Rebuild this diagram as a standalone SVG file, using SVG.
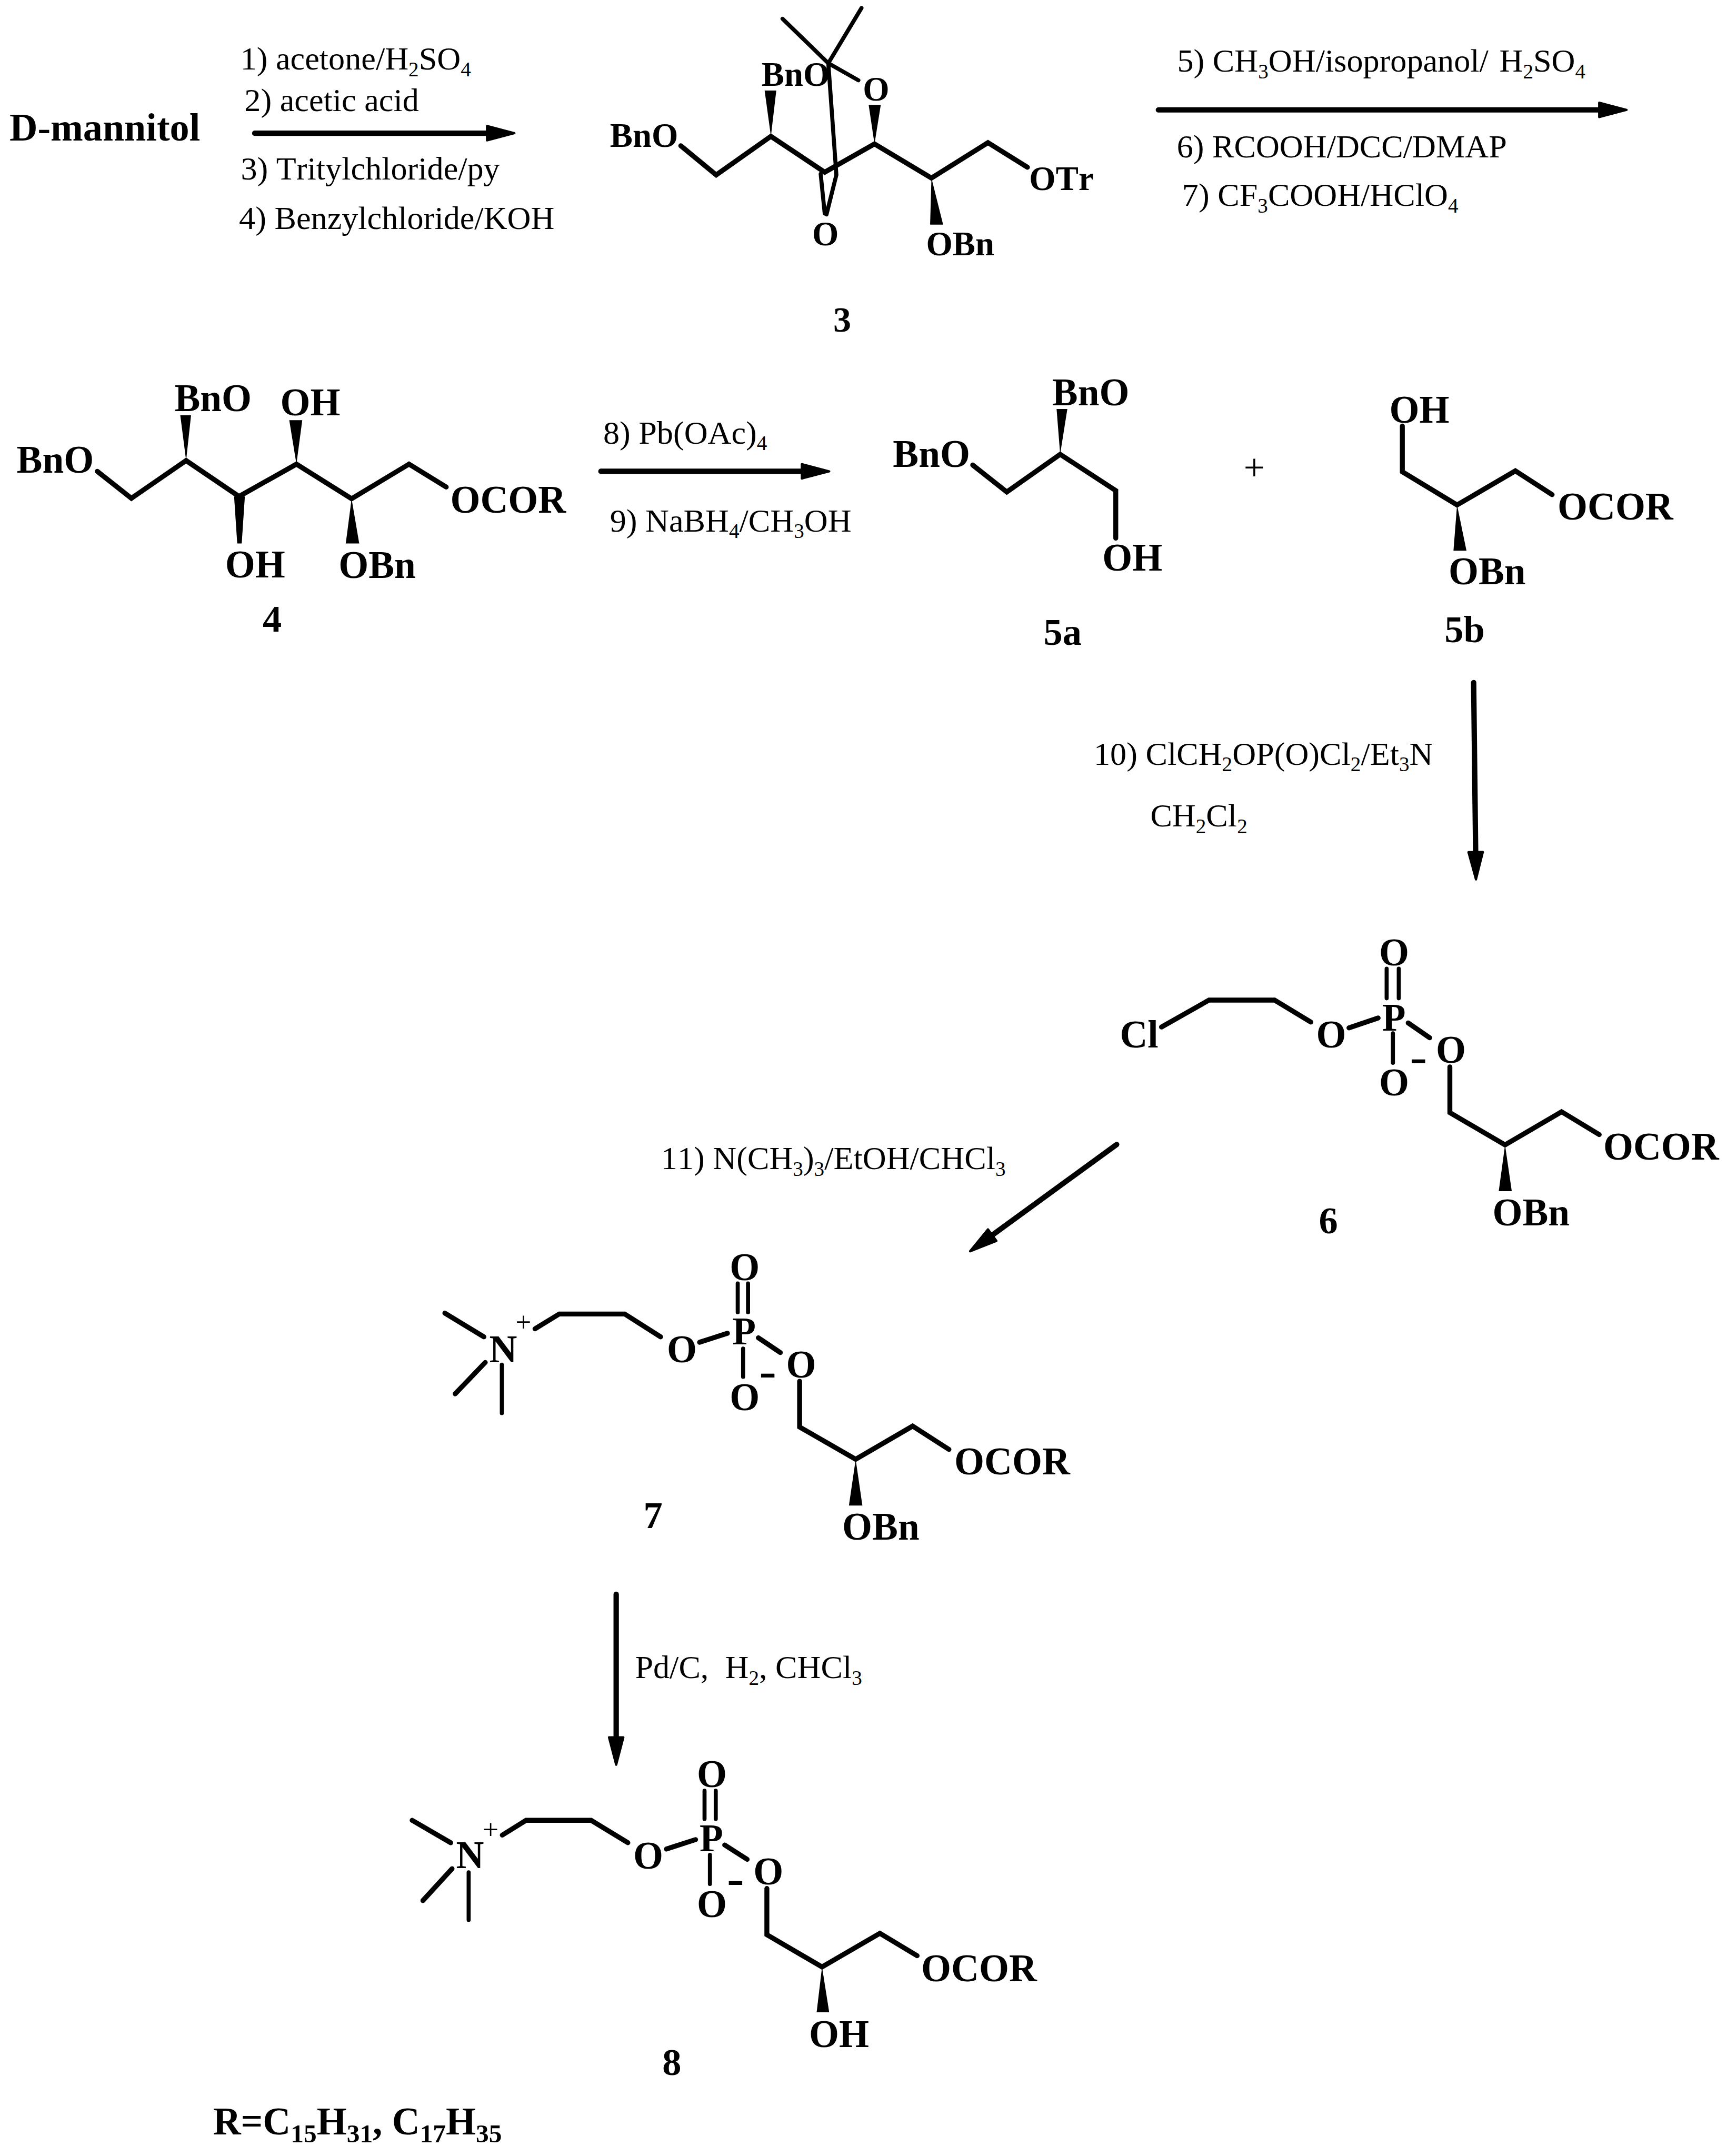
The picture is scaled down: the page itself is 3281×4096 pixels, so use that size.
<svg xmlns="http://www.w3.org/2000/svg" width="3281" height="4096" viewBox="0 0 3281 4096">
<style>
text{fill:#000;font-family:"Liberation Serif","Times New Roman",serif;white-space:pre;font-kerning:none}
.r{font-size:73px}
.m{font-size:86px;font-weight:700}
.s{font-size:76px;font-weight:700}
.l{font-size:85px;font-weight:700;text-anchor:middle}
.minus{font-size:115px;text-anchor:middle}
.bond{fill:none;stroke:#000;stroke-width:11;stroke-linecap:round;stroke-linejoin:miter}
.thin{fill:none;stroke:#000;stroke-width:9;stroke-linecap:round;stroke-linejoin:miter}
.arrow{fill:none;stroke:#000;stroke-width:12;stroke-linecap:round;marker-end:url(#head)}
.w{fill:#000}
</style>
<defs>
<marker id="head" markerUnits="userSpaceOnUse" markerWidth="80" markerHeight="50" viewBox="-5 -25 80 50" refX="5" refY="0" orient="auto" overflow="visible">
<path d="M2,-16 L63,0 L2,16 Z" fill="#000" stroke="#000" stroke-width="5" stroke-linejoin="round"/>
</marker>
</defs>
<rect width="3281" height="4096" fill="#fff"/>
<g transform="scale(.852)">

<g id="connectors">
<path class="arrow" d="M568,297 L1089,297"/>
<path class="arrow" d="M2583,245 L3569,245"/>
<path class="arrow" d="M1340,1051 L1791,1051"/>
<path class="arrow" d="M3286,1522 L3290.5,1903"/>
<path class="arrow" d="M2490,2552 L2210,2756"/>
<path class="arrow" d="M1374,3555 L1374,3877"/>
</g>

<g id="reagents">
<text class="r" x="536" y="155">1) acetone/H<tspan font-size="46" dy="15">2</tspan><tspan dy="-15">SO</tspan><tspan font-size="46" dy="15">4</tspan></text>
<text class="r" x="545" y="248">2) acetic acid</text>
<text class="r" x="537" y="400">3) Tritylchloride/py</text>
<text class="r" x="533" y="511">4) Benzylchloride/KOH</text>
<text class="r" x="2625" y="160">5) CH<tspan font-size="46" dy="15">3</tspan><tspan dy="-15">OH/isopropanol/ </tspan><tspan dx="6">H</tspan><tspan font-size="46" dy="15">2</tspan><tspan dy="-15">SO</tspan><tspan font-size="46" dy="15">4</tspan></text>
<text class="r" x="2624" y="351">6) RCOOH/DCC/DMAP</text>
<text class="r" x="2636" y="459">7) CF<tspan font-size="46" dy="15">3</tspan><tspan dy="-15">COOH/HClO</tspan><tspan font-size="46" dy="15">4</tspan></text>
<text class="r" x="1345" y="989">8) Pb(OAc)<tspan font-size="46" dy="15">4</tspan></text>
<text class="r" x="1360" y="1185">9) NaBH<tspan font-size="46" dy="15">4</tspan><tspan dy="-15">/CH</tspan><tspan font-size="46" dy="15">3</tspan><tspan dy="-15">OH</tspan></text>
<text class="r" x="2439" y="1705">10) ClCH<tspan font-size="46" dy="15">2</tspan><tspan dy="-15">OP(O)Cl</tspan><tspan font-size="46" dy="15">2</tspan><tspan dy="-15">/Et</tspan><tspan font-size="46" dy="15">3</tspan><tspan dy="-15">N</tspan></text>
<text class="r" x="2565" y="1843">CH<tspan font-size="46" dy="15">2</tspan><tspan dy="-15">Cl</tspan><tspan font-size="46" dy="15">2</tspan></text>
<text class="r" x="1474" y="2607">11) N(CH<tspan font-size="46" dy="15">3</tspan><tspan dy="-15">)</tspan><tspan font-size="46" dy="15">3</tspan><tspan dy="-15">/EtOH/CHCl</tspan><tspan font-size="46" dy="15">3</tspan></text>
<text class="r" x="1416" y="3742">Pd/C,  H<tspan font-size="46" dy="15">2</tspan><tspan dy="-15">, CHCl</tspan><tspan font-size="46" dy="15">3</tspan></text>
</g>

<g id="d-mannitol"><text x="21" y="313" font-size="87" font-weight="700">D-mannitol</text></g>

<g id="compound-3">
<path class="bond" d="M1518,325 L1597,390 L1719,304 L1839,384 L1950,321 L2077,397 L2203,318 L2291,373"/>
<path class="thin" d="M1745,42 L1847,141 L1914,179 M1921,18 L1847,141 L1865,390 L1843,478 M1830,388 L1839,476"/>
<polygon class="w" points="1719,304 1705,202 1731,202"/>
<polygon class="w" points="1950,321 1937,234 1964,234"/>
<polygon class="w" points="2077,397 2074,501 2103,501"/>
<text class="s" x="1698" y="191">BnO</text>
<text class="s" x="1360" y="328">BnO</text>
<text class="s" x="1924" y="224">O</text>
<text class="s" x="1811" y="547">O</text>
<text class="s" x="2295" y="424">OTr</text>
<text class="s" x="2065" y="569">OBn</text>
<text class="l" x="1878" y="739" style="font-size:80px">3</text>
</g>

<g id="compound-4">
<path class="bond" d="M217,1051 L293,1111 L415,1027 L533,1107 L661,1035 L784,1112 L912,1035 L995,1086"/>
<polygon class="w" points="415,1027 402,926 426,926"/>
<polygon class="w" points="661,1035 645,937 674,937"/>
<polygon class="w" points="522,1107 546,1107 539,1212 529,1212"/>
<polygon class="w" points="784,1112 771,1212 801,1212"/>
<text class="m" x="37" y="1054">BnO</text>
<text class="m" x="389" y="917">BnO</text>
<text class="m" x="625" y="926">OH</text>
<text class="m" x="502" y="1288">OH</text>
<text class="m" x="755" y="1289">OBn</text>
<text class="m" x="1004" y="1143">OCOR</text>
<text class="l" x="607" y="1409">4</text>
</g>

<g id="compound-5a">
<path class="bond" d="M2169,1037 L2245,1097 L2364,1013 L2488,1094 L2488,1200"/>
<polygon class="w" points="2364,1013 2356,912 2380,912"/>
<text class="m" x="1991" y="1041">BnO</text>
<text class="m" x="2346" y="904">BnO</text>
<text class="m" x="2458" y="1272">OH</text>
<text class="l" x="2327" y="1438" style="text-anchor:start">5a</text>
</g>

<g id="plus"><text x="2797" y="1070" font-size="84" text-anchor="middle">+</text></g>

<g id="compound-5b">
<path class="bond" d="M3127,950 L3127,1052 L3249,1126 L3379,1050 L3461,1103"/>
<polygon class="w" points="3249,1126 3241,1228 3270,1228"/>
<text class="m" x="3098" y="942">OH</text>
<text class="m" x="3473" y="1158">OCOR</text>
<text class="m" x="3230" y="1303">OBn</text>
<text class="l" x="3221" y="1432" style="text-anchor:start">5b</text>
</g>

<g id="compound-6">
<path class="bond" d="M2590,2290 L2696,2230 L2842,2230 L2923,2279 M3008,2292 L3073,2270 M3140,2281 L3188,2314 M3233,2379 L3233,2481 L3356,2553 L3482,2479 L3566,2530"/>
<path class="thin" d="M3092,2160 L3092,2226 M3119,2160 L3119,2226 M3106,2304 L3106,2370"/>
<polygon class="w" points="3356,2553 3342,2656 3371,2656"/>
<text class="m" x="2497" y="2336">Cl</text>
<text class="m" x="2935" y="2336">O</text>
<text class="m" x="3082" y="2298">P</text>
<text class="m" x="3075" y="2152">O</text>
<text class="m" x="3075" y="2443">O</text>
<text class="m" x="3202" y="2370">O</text>
<text class="minus" x="3163" y="2393">-</text>
<text class="m" x="3575" y="2586">OCOR</text>
<text class="m" x="3328" y="2732">OBn</text>
<text class="l" x="2962" y="2750">6</text>
</g>

<g id="compound-7">
<path class="bond" d="M992,2928 L1079,2981 M1082,3038 L1015,3108 M1193,2963 L1247,2930 L1393,2930 L1473,2981 M1560,2993 L1622,2973 M1691,2983 L1740,3016 M1783,3080 L1783,3182 L1908,3254 L2035,3180 L2116,3232"/>
<path class="thin" d="M1119,3043 L1119,3151 M1645,2862 L1645,2926 M1668,2862 L1668,2926 M1657,3007 L1657,3070"/>
<polygon class="w" points="1908,3254 1893,3357 1923,3357"/>
<text class="m" x="1091" y="3037">N</text>
<text x="1167" y="2968" font-size="62" text-anchor="middle">+</text>
<text class="m" x="1487" y="3037">O</text>
<text class="m" x="1633" y="2998">P</text>
<text class="m" x="1627" y="2855">O</text>
<text class="m" x="1627" y="3144">O</text>
<text class="m" x="1753" y="3072">O</text>
<text class="minus" x="1712" y="3094">-</text>
<text class="m" x="2128" y="3288">OCOR</text>
<text class="m" x="1878" y="3433">OBn</text>
<text class="l" x="1456" y="3407">7</text>
</g>

<g id="compound-8">
<path class="bond" d="M919,4059 L1005,4109 M1008,4167 L943,4238 M1120,4092 L1173,4059 L1318,4059 L1400,4109 M1486,4123 L1551,4102 M1616,4114 L1666,4146 M1710,4211 L1710,4314 L1833,4386 L1962,4311 L2045,4361"/>
<path class="thin" d="M1045,4175 L1045,4281 M1571,3993 L1571,4056 M1596,3993 L1596,4056 M1583,4136 L1583,4201"/>
<polygon class="w" points="1833,4386 1821,4487 1849,4487"/>
<text class="m" x="1017" y="4166">N</text>
<text x="1094" y="4100" font-size="62" text-anchor="middle">+</text>
<text class="m" x="1412" y="4167">O</text>
<text class="m" x="1560" y="4128">P</text>
<text class="m" x="1554" y="3985">O</text>
<text class="m" x="1554" y="4275">O</text>
<text class="m" x="1680" y="4202">O</text>
<text class="minus" x="1640" y="4225">-</text>
<text class="m" x="2054" y="4418">OCOR</text>
<text class="m" x="1804" y="4564">OH</text>
<text class="l" x="1498" y="4627">8</text>
</g>

<g id="r-definition">
<text x="475" y="4759" font-size="86" font-weight="700">R=C<tspan font-size="58" dy="18">15</tspan><tspan dy="-18">H</tspan><tspan font-size="58" dy="18">31</tspan><tspan dy="-18">, C</tspan><tspan font-size="58" dy="18">17</tspan><tspan dy="-18">H</tspan><tspan font-size="58" dy="18">35</tspan></text>
</g>

</g>
</svg>
